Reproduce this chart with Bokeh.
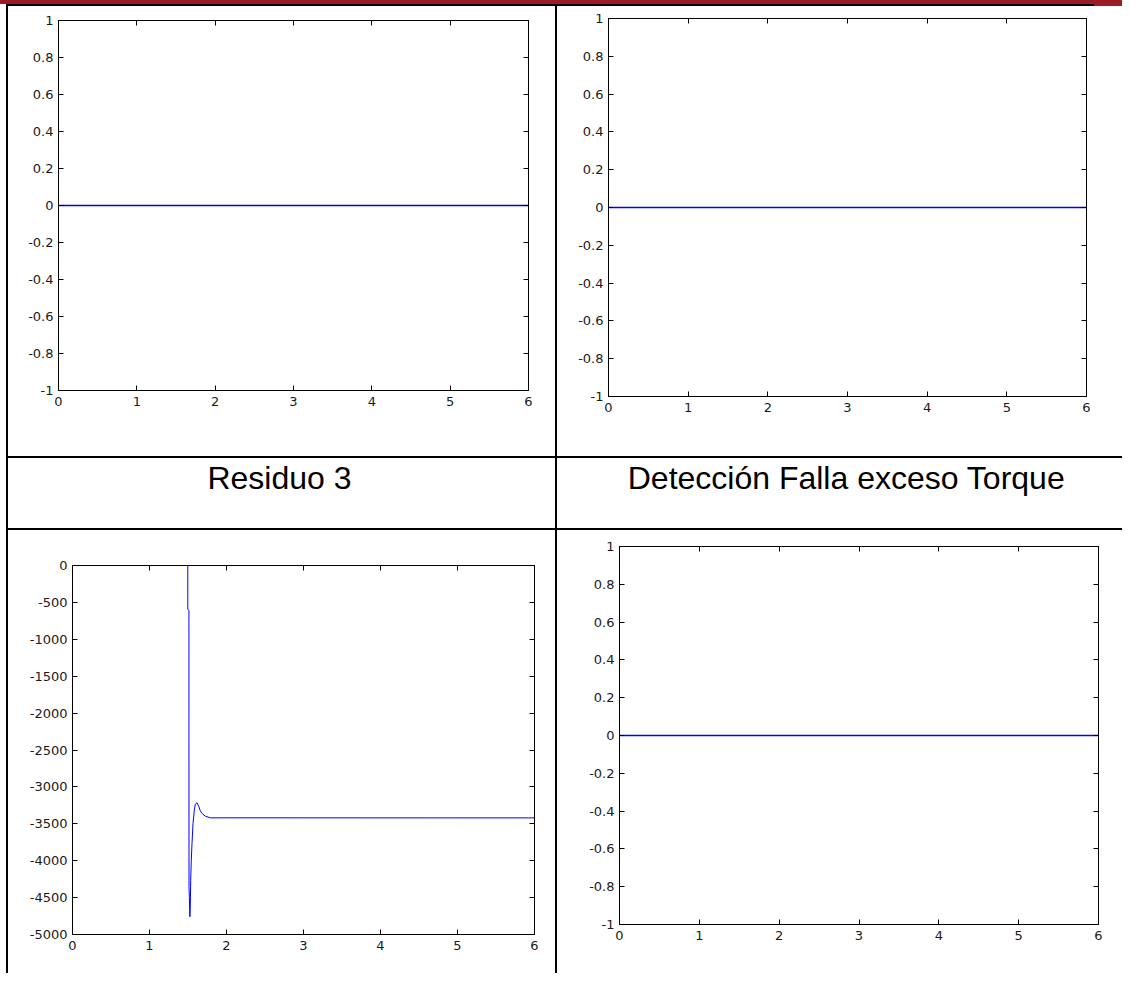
from bokeh.plotting import figure
from bokeh.layouts import row, column
from bokeh.models import Range1d, FixedTicker, CustomJSTickFormatter, LinearAxis, Label, Div
from bokeh.embed import file_html
from bokeh.resources import INLINE

# ---------------- data ----------------
time_flat = [0.0, 6.0]
residuo_1 = [0.0, 0.0]          # top-left panel
residuo_2 = [0.0, 0.0]          # top-right panel
deteccion = [0.0, 0.0]          # bottom-right panel

time_res3 = [0.0, 1.497, 1.4975, 1.512, 1.513, 1.518, 1.524, 1.530, 1.535, 1.543,
             1.552, 1.565, 1.582, 1.595, 1.617, 1.639, 1.660, 1.682, 1.725, 1.790, 6.0]
residuo_3 = [0.0, 0.0, -590.0, -610.0, -4350.0, -4500.0, -4760.0, -4600.0, -4264.0, -3993.0,
             -3767.0, -3496.0, -3315.0, -3234.0, -3216.0, -3261.0, -3324.0, -3360.0, -3397.0, -3419.0, -3420.0]

x_ticks = [0, 1, 2, 3, 4, 5, 6]
y_ticks_unit = [-1, -0.8, -0.6, -0.4, -0.2, 0, 0.2, 0.4, 0.6, 0.8, 1]
y_ticks_res3 = [-5000, -4500, -4000, -3500, -3000, -2500, -2000, -1500, -1000, -500, 0]

titles = ["Residuo 3", "Detección Falla exceso Torque"]

TICK_FONT = "DejaVu Sans"
TICK_SIZE = "13px"
TITLE_FONT = "Liberation Sans"
TITLE_SIZE = "32px"
LINE_BLUE = "#0000ff"
HEADER_RED = "#9c1b25"

num_fmt = CustomJSTickFormatter(code="return String(tick);")


def blank_fmt():
    return CustomJSTickFormatter(code="return '';")


def style_axis(ax, show_labels, standoff):
    ax.axis_line_color = "black"
    ax.axis_line_width = 1
    ax.major_tick_in = 5
    ax.major_tick_out = 0
    ax.major_tick_line_color = "black"
    ax.minor_tick_line_color = None
    if show_labels:
        ax.major_label_text_font = TICK_FONT
        ax.major_label_text_font_size = TICK_SIZE
        ax.major_label_text_color = "#1a1a1a"
        ax.major_label_standoff = standoff
    else:
        ax.major_label_text_font_size = "0px"
        ax.major_label_standoff = 0


def panel(tx, ty, yr, yticks, fw, fh, mbl, mbr, mbt, mbb, lw):
    p = figure(output_backend="svg", toolbar_location=None,
               frame_width=fw, frame_height=fh, frame_align=False,
               x_range=Range1d(0, 6), y_range=Range1d(*yr),
               min_border_left=mbl, min_border_right=mbr,
               min_border_top=mbt, min_border_bottom=mbb,
               background_fill_color="white", border_fill_color="white",
               outline_line_color="black", outline_line_width=1, margin=0)
    p.line(tx, ty, line_color=LINE_BLUE, line_width=lw)
    p.xgrid.visible = False
    p.ygrid.visible = False
    p.xaxis.ticker = FixedTicker(ticks=x_ticks)
    p.yaxis.ticker = FixedTicker(ticks=yticks)
    p.xaxis.formatter = num_fmt
    p.yaxis.formatter = num_fmt
    style_axis(p.xaxis[0], True, 6)
    style_axis(p.yaxis[0], True, 5)
    top = LinearAxis(ticker=FixedTicker(ticks=x_ticks), formatter=blank_fmt())
    style_axis(top, False, 0)
    p.add_layout(top, "above")
    right = LinearAxis(ticker=FixedTicker(ticks=yticks), formatter=blank_fmt())
    style_axis(right, False, 0)
    p.add_layout(right, "right")
    return p


def title_cell(text, w, h, cx, base_from_bottom):
    p = figure(output_backend="svg", toolbar_location=None,
               frame_width=w, frame_height=h, frame_align=False,
               x_range=Range1d(0, 1), y_range=Range1d(0, 1),
               min_border=0, x_axis_location=None, y_axis_location=None,
               outline_line_color=None, background_fill_color="white",
               border_fill_color="white", margin=0)
    p.xgrid.visible = False
    p.ygrid.visible = False
    p.add_layout(Label(x=cx, y=base_from_bottom, x_units="screen", y_units="screen",
                       text=text, text_align="center", text_baseline="alphabetic",
                       text_font=TITLE_FONT, text_font_size=TITLE_SIZE,
                       text_color="black"))
    return p


def block(w, h, color):
    return Div(text="", width=w, height=h, margin=0,
               styles={"background-color": color})


TOTAL_W = 1122
W0, WB, W1, WD, W2 = 6, 2, 547, 2, 565
H1, HT, H3 = 450, 70, 443

p_tl = panel(time_flat, residuo_1, (-1, 1), y_ticks_unit, 470, 370, 50, 27, 14, 66, 1.5)
p_tr = panel(time_flat, residuo_2, (-1, 1), y_ticks_unit, 478, 378, 51, 36, 12, 60, 1.5)
p_bl = panel(time_res3, residuo_3, (-5000, 0), y_ticks_res3, 462, 369, 64, 21, 35, 39, 1.0)
p_br = panel(time_flat, deteccion, (-1, 1), y_ticks_unit, 479, 378, 62, 24, 16, 49, 1.5)

t1 = title_cell(titles[0], W1, HT, 271, 51)
t2 = title_cell(titles[1], W2, HT, 289, 51)


def table_row(a, b, h):
    return row(block(W0, h, "white"), block(WB, h, "black"), a,
               block(WD, h, "black"), b, spacing=0, margin=0)


header = block(TOTAL_W, 4, HEADER_RED)
top_border = row(block(6, 2, "white"), block(1088, 2, "black"),
                 block(TOTAL_W - 6 - 1088, 2, HEADER_RED), spacing=0, margin=0)


def hline():
    return row(block(W0, 2, "white"), block(TOTAL_W - W0, 2, "black"), spacing=0, margin=0)


layout = column(header, top_border,
                table_row(p_tl, p_tr, H1), hline(),
                table_row(t1, t2, HT), hline(),
                table_row(p_bl, p_br, H3),
                spacing=0, margin=0)

open("out.html", "w").write(file_html(layout, INLINE))
